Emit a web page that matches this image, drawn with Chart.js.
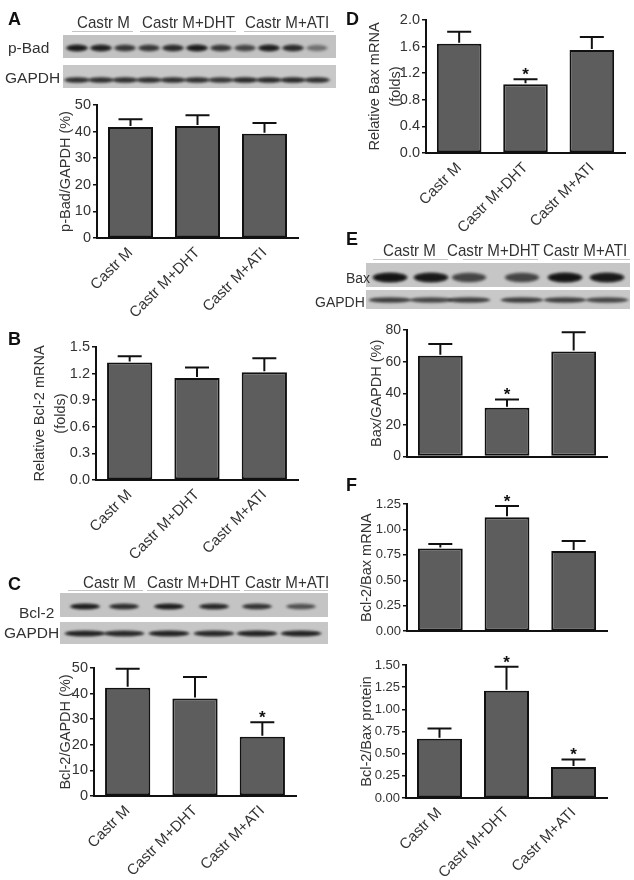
<!DOCTYPE html>
<html>
<head>
<meta charset="utf-8">
<script src="https://cdn.jsdelivr.net/npm/chart.js@4.4.1/dist/chart.umd.min.js"></script>
<style>
  html,body{margin:0;padding:0;background:#fff;}
  #page{position:relative;width:634px;height:880px;overflow:hidden;background:#fff;font-family:"Liberation Sans",Arial,sans-serif;}
  .t{position:absolute;white-space:nowrap;line-height:1;color:#333;}
  .lett{font-weight:bold;font-size:18px;color:#111;}
  .hdr{font-size:17px;transform:scaleX(0.89);transform-origin:left center;}
  .lab{font-size:15.5px;}
  .lab2{font-size:14px;}
  .ul{position:absolute;height:1px;background:#c4c4c4;}
  canvas{position:absolute;}
</style>
</head>
<body>
<div id="page"><canvas id="bg" width="634" height="880" style="left:0;top:0;width:634px;height:880px"></canvas></div>
<script>
// ---------------- DATA ----------------
const categories = ["Castr M", "Castr M+DHT", "Castr M+ATI"];

const pBadMean = [41.7, 42.1, 39.2];
const pBadErr  = [2.9, 4.0, 4.0];
const pBadSig  = [false, false, false];
const pBadTicks = [0, 10, 20, 30, 40, 50];

const bcl2mRNAMean = [1.324, 1.151, 1.215];
const bcl2mRNAErr  = [0.071, 0.117, 0.158];
const bcl2mRNASig  = [false, false, false];
const bcl2mRNATicks = [0, 0.3, 0.6, 0.9, 1.2, 1.5];

const bcl2ProtMean = [42.3, 38.1, 23.1];
const bcl2ProtErr  = [7.4, 8.4, 5.7];
const bcl2ProtSig  = [false, false, true];
const bcl2ProtTicks = [0, 10, 20, 30, 40, 50];

const baxmRNAMean = [1.644, 1.035, 1.55];
const baxmRNAErr  = [0.181, 0.075, 0.195];
const baxmRNASig  = [false, true, false];
const baxmRNATicks = [0, 0.4, 0.8, 1.2, 1.6, 2.0];

const baxProtMean = [63.7, 30.9, 66.4];
const baxProtErr  = [7.4, 5.2, 12.1];
const baxProtSig  = [false, true, false];
const baxProtTicks = [0, 20, 40, 60, 80];

const ratioMRNAMean = [0.812, 1.121, 0.787];
const ratioMRNAErr  = [0.044, 0.110, 0.100];
const ratioMRNASig  = [false, true, false];
const ratioMRNATicks = [0, 0.25, 0.5, 0.75, 1.0, 1.25];

const ratioProtMean = [0.669, 1.21, 0.35];
const ratioProtErr  = [0.116, 0.271, 0.085];
const ratioProtSig  = [false, true, true];
const ratioProtTicks = [0, 0.25, 0.5, 0.75, 1.0, 1.25, 1.5];

// blot band intensities (0..1)
const pBadBands   = [0.95, 0.9, 0.7, 0.7, 0.8, 0.95, 0.7, 0.6, 0.92, 0.8, 0.35];
const gapdhABands = [0.75, 0.75, 0.75, 0.75, 0.75, 0.75, 0.7, 0.8, 0.8, 0.8, 0.75];
const bcl2Bands   = [0.95, 0.8, 0.95, 0.85, 0.75, 0.55];
const gapdhCBands = [0.9, 0.85, 0.9, 0.85, 0.9, 0.9];
const baxBands    = [1.0, 0.95, 0.6, 0.6, 1.0, 0.95];
const gapdhEBands = [0.65, 0.6, 0.65, 0.65, 0.65, 0.6];

// ---------------- TEXT / DECORATION ----------------
const FONT = '"Liberation Sans", Arial, sans-serif';
const page = document.getElementById('page');
function txt(s, cls, x, baseline, fs){
  const d = document.createElement('div');
  d.className = 't ' + cls; d.textContent = s;
  d.style.left = x + 'px'; d.style.top = (baseline - 0.8465*fs) + 'px';
  page.appendChild(d);
}
function ul(x1, x2, y){
  const d = document.createElement('div'); d.className='ul';
  d.style.left = x1+'px'; d.style.width=(x2-x1)+'px'; d.style.top=y+'px';
  page.appendChild(d);
}
// panel letters
txt('A','lett',8,25,18); txt('B','lett',8,345,18); txt('C','lett',8,590,18);
txt('D','lett',346,25,18); txt('E','lett',346,245,18); txt('F','lett',346,491,18);
// headers
[[categories[0],77],[categories[1],142],[categories[2],245]].forEach(a=>txt(a[0],'hdr',a[1],28,17));
ul(72,133,31); ul(140,236,31); ul(244,334,31);
[[categories[0],83],[categories[1],147],[categories[2],245]].forEach(a=>txt(a[0],'hdr',a[1],588,17));
ul(68,143,590); ul(147,240,590); ul(244,328,590);
[[categories[0],383],[categories[1],447],[categories[2],543]].forEach(a=>txt(a[0],'hdr',a[1],256,17));
ul(373,448,259); ul(463,538,259); ul(552,630,259);
// blot labels
txt('p-Bad','lab',8,53,15.5); txt('GAPDH','lab',5,83,15.5);
txt('Bcl-2','lab',19,618,15.5); txt('GAPDH','lab',4,638,15.5);
txt('Bax','lab2',346,283,14); txt('GAPDH','lab2',315,307,14);

// blots on background canvas
const bg = document.getElementById('bg').getContext('2d');
function blot(x, y, w, h, col, centers, ints, by, bw, bh){
  bg.save();
  bg.fillStyle = col; bg.fillRect(x, y, w, h);
  bg.beginPath(); bg.rect(x, y, w, h); bg.clip();
  bg.filter = 'blur(1.3px)';
  centers.forEach((cx, i) => {
    const a = ints[i];
    bg.fillStyle = 'rgba(30,30,30,' + (a*0.55) + ')';
    bg.beginPath(); bg.ellipse(cx, by, bw/2+2, bh/2+1.5, 0, 0, Math.PI*2); bg.fill();
    bg.fillStyle = 'rgba(20,20,20,' + a + ')';
    bg.beginPath(); bg.ellipse(cx, by, bw/2, bh/2, 0, 0, Math.PI*2); bg.fill();
  });
  bg.restore();
}
const lanesA = pBadBands.map((_, i) => 77 + i*24);
blot(63, 35, 273, 23, '#c2c2c2', lanesA, pBadBands, 48, 19, 5);
blot(63, 65, 273, 23, '#c8c8c8', lanesA, gapdhABands, 80, 23, 4);
const lanesC = [85, 124, 169, 214, 257, 301];
blot(60, 593, 268, 24, '#c4c4c4', lanesC, bcl2Bands, 606.5, 27, 4);
blot(60, 622, 268, 22, '#c6c6c6', lanesC, gapdhCBands, 633.5, 38, 4);
const lanesE = [390, 431, 469, 522, 565, 607];
blot(366, 263, 264, 24, '#c6c6c6', lanesE, baxBands, 277.5, 32, 8);
blot(366, 290, 264, 19, '#c8c8c8', lanesE, gapdhEBands, 300, 40, 4);

// ---------------- CHARTS ----------------
const errPlugin = {
  id: 'errBars',
  afterDatasetsDraw(chart, args, o){
    const ctx = chart.ctx, ys = chart.scales.y, meta = chart.getDatasetMeta(0);
    ctx.save();
    ctx.strokeStyle = '#111'; ctx.lineWidth = 2; ctx.lineCap = 'butt';
    meta.data.forEach((bar, i) => {
      const m = o.means[i], e = o.errs[i];
      const x = bar.x, y0 = ys.getPixelForValue(m) - 1, y1 = ys.getPixelForValue(m + e);
      ctx.beginPath();
      ctx.moveTo(x, y0); ctx.lineTo(x, y1);
      ctx.moveTo(x - 12, y1); ctx.lineTo(x + 12, y1);
      ctx.stroke();
      if (o.sig[i]) {
        ctx.fillStyle = '#111';
        ctx.font = 'bold 17px ' + FONT;
        ctx.textAlign = 'center'; ctx.textBaseline = 'alphabetic';
        ctx.fillText('*', x, y1 + 1);
      }
    });
    ctx.restore();
  }
};

function barPanel(c){
  const padTop = 12, padRight = 6;
  const left = c.canvasLeft, top = c.plotTop - padTop;
  const W = Math.round(c.axisRight + padRight - left);
  const H = Math.round(c.plotBottom - top + c.xAxisH);
  const cv = document.createElement('canvas');
  cv.width = W; cv.height = H;
  cv.style.left = left + 'px'; cv.style.top = top + 'px';
  cv.style.width = W + 'px'; cv.style.height = H + 'px';
  page.appendChild(cv);
  const lh = Array.isArray(c.title) ? 1.45 : 1.2;
  const tfs = 14.5;
  new Chart(cv, {
    type: 'bar',
    data: { labels: categories, datasets: [{
      data: c.means, backgroundColor: '#5d5d5d', borderColor: '#111', borderWidth: 2,
      borderSkipped: false, categoryPercentage: 0.8, barPercentage: 0.84 }] },
    options: {
      responsive: false, animation: false, devicePixelRatio: 1,
      layout: { padding: { top: padTop, right: padRight, left: 0, bottom: 0 } },
      plugins: { legend: { display: false }, tooltip: { enabled: false },
        errBars: { means: c.means, errs: c.errs, sig: c.sig } },
      scales: {
        x: {
          grid: { display: false, drawTicks: false },
          border: { display: true, color: '#111', width: 2 },
          ticks: { display: c.showX, maxRotation: 45, minRotation: 45, autoSkip: false,
            font: { family: FONT, size: 15 }, color: '#333', padding: 6 },
          afterFit: s => { s.height = c.xAxisH; }
        },
        y: {
          min: 0, max: c.ticks[c.ticks.length - 1],
          afterBuildTicks: s => { s.ticks = c.ticks.map(v => ({ value: v })); },
          grid: { display: true, drawOnChartArea: false, drawTicks: true, tickLength: 4,
            color: '#111', lineWidth: 1.5 },
          border: { display: true, color: '#111', width: 2 },
          ticks: { callback: v => Number(v).toFixed(c.dec), font: { family: FONT, size: c.tickSize || 14.5 },
            color: '#333', padding: 2 },
          title: { display: true, text: c.title, color: '#333',
            font: { family: FONT, size: tfs, lineHeight: lh },
            padding: { top: c.titleX - left - tfs*lh/2, bottom: 0 } },
          afterFit: s => { s.width = c.axisX - left; }
        }
      }
    },
    plugins: [errPlugin]
  });
}

barPanel({ canvasLeft: 0, axisX: 97, axisRight: 298, plotTop: 105, plotBottom: 237.7, xAxisH: 80, showX: true,
  ticks: pBadTicks, dec: 0, title: 'p-Bad/GAPDH (%)', titleX: 66, means: pBadMean, errs: pBadErr, sig: pBadSig });
barPanel({ canvasLeft: 0, axisX: 96, axisRight: 298, plotTop: 346.7, plotBottom: 480, xAxisH: 80, showX: true,
  ticks: bcl2mRNATicks, dec: 1, title: ['Relative Bcl-2 mRNA', '(folds)'], titleX: 40, means: bcl2mRNAMean, errs: bcl2mRNAErr, sig: bcl2mRNASig });
barPanel({ canvasLeft: 0, axisX: 94, axisRight: 296, plotTop: 668, plotBottom: 796, xAxisH: 80, showX: true,
  ticks: bcl2ProtTicks, dec: 0, title: 'Bcl-2/GAPDH (%)', titleX: 66, means: bcl2ProtMean, errs: bcl2ProtErr, sig: bcl2ProtSig });
barPanel({ canvasLeft: 320, axisX: 426, axisRight: 625, plotTop: 20, plotBottom: 153.3, xAxisH: 80, showX: true,
  ticks: baxmRNATicks, dec: 1, title: ['Relative Bax mRNA', '(folds)'], titleX: 375, means: baxmRNAMean, errs: baxmRNAErr, sig: baxmRNASig });
barPanel({ canvasLeft: 320, axisX: 407, axisRight: 607, plotTop: 330, plotBottom: 463, xAxisH: 4, showX: false, tickSize: 14,
  ticks: baxProtTicks, dec: 0, title: 'Bax/GAPDH (%)', titleX: 377, means: baxProtMean, errs: baxProtErr, sig: baxProtSig });
barPanel({ canvasLeft: 320, axisX: 407, axisRight: 607, plotTop: 504.3, plotBottom: 637.3, xAxisH: 4, showX: false, tickSize: 13,
  ticks: ratioMRNATicks, dec: 2, title: 'Bcl-2/Bax mRNA', titleX: 367, means: ratioMRNAMean, errs: ratioMRNAErr, sig: ratioMRNASig });
barPanel({ canvasLeft: 320, axisX: 406, axisRight: 607, plotTop: 665.3, plotBottom: 798.3, xAxisH: 80, showX: true, tickSize: 13,
  ticks: ratioProtTicks, dec: 2, title: 'Bcl-2/Bax protein', titleX: 367, means: ratioProtMean, errs: ratioProtErr, sig: ratioProtSig });
</script>
</body>
</html>
